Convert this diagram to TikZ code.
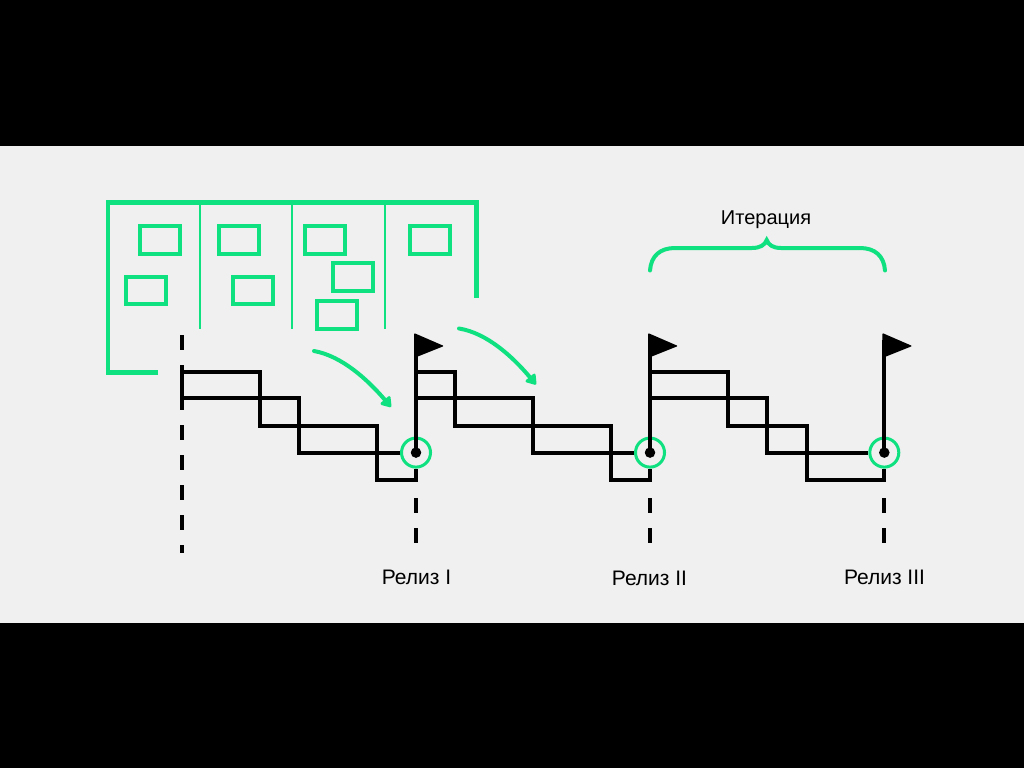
\documentclass[tikz,border=0pt]{standalone}
\usepackage{fontspec}
\setmainfont{Liberation Sans}
\usetikzlibrary{arrows.meta}
\definecolor{boardgreen}{HTML}{0FE080}
\definecolor{panelgrey}{HTML}{F0F0F0}

\begin{document}
\begin{tikzpicture}[
  x=1pt, y=-1pt,
  board/.style={draw=boardgreen, line width=4.5pt},
  divider/.style={draw=boardgreen, line width=1.8pt},
  card/.style={draw=boardgreen, line width=4pt, minimum width=40pt, minimum height=27.5pt,
    inner sep=0pt, outer sep=0pt},
  stair/.style={draw=black, line width=4pt},
  cut/.style={draw=black, line width=4pt, dash pattern=on 15pt off 15pt},
  ring/.style={circle, draw=boardgreen, line width=3pt, minimum size=29pt, inner sep=0pt},
  dot/.style={circle, fill=black, minimum size=10.5pt, inner sep=0pt},
  push/.style={draw=boardgreen, line width=4pt, line cap=round,
    -{Triangle[length=11pt, width=14pt, round]}},
  lbl/.style={font=\fontsize{21}{24}\selectfont, text=black, inner sep=0pt},
]
\useasboundingbox (0,0) rectangle (1024,768);
% page
\fill[black] (0,0) rectangle (1024,768);
\fill[panelgrey] (0,146) rectangle (1024,623);
% board
\draw[board] (158,372.7) -- (108,372.7) -- (108,202.7) -- (476.7,202.7) -- (476.7,298);
\foreach \x in {200.3,292.3,384.7}
  \draw[divider] (\x,204) -- (\x,329);
% cards on the board
\foreach \n/\x/\y in {a/159.7/240,b/239.2/240,c/325/240,d/430/240,e/146/290.7,f/253.3/290.7,g/352.5/277,h/337/315}
  \node[card] (card\n) at (\x,\y) {};
% start line
\draw[cut] (181.7,335) -- (181.7,553);
\coordinate (start) at (181.7,365);
\draw[stair] (start) -- (181.7,410);
% release poles
\foreach \n/\x in {1/416,2/650,3/884.3} {
  \node[ring] (ring\n) at (\x,452.6) {};
  \draw[stair] (\x,340) -- (ring\n.center);
  \draw[stair] (ring\n.south) -- (\x,482);
  \fill[black, rounded corners=1pt] (\x-2,333) -- (\x+28,346) -- (\x-2,358) -- cycle;
  \node[dot] (dot\n) at (ring\n) {};
  \draw[cut] (\x,498) -- (\x,545);
}
% iteration I
\draw[stair] (181.7,371.7) -- (260,371.7) -- (260,425.7) -- (376.7,425.7) -- (376.7,480) -- (418,480);
\draw[stair] (181.7,398.3) -- (299,398.3) -- (299,452.6) -- (ring1);
% iteration II
\draw[stair] (416,371.7) -- (455,371.7) -- (455,425.7) -- (611,425.7) -- (611,480) -- (652,480);
\draw[stair] (416,398.3) -- (533.3,398.3) -- (533.3,452.6) -- (ring2);
% iteration III
\draw[stair] (650,371.7) -- (728.3,371.7) -- (728.3,425.7) -- (806.7,425.7) -- (806.7,480) -- (886.3,480);
\draw[stair] (650,398.3) -- (767.3,398.3) -- (767.3,452.6) -- (ring3);
% green arrows
\draw[push] (314,351) .. controls (342,356) and (368,380) .. (391,407);
\draw[push] (459,328.5) .. controls (487,333) and (513,357) .. (536,384.5);
% brace
\draw[board, line cap=round, line width=4pt] (650,270.5) .. controls (651,256) and (660,248) .. (675,248)
  -- (752,248) .. controls (760,248) and (765,245) .. (766.7,240)
  .. controls (768.5,245) and (773,248) .. (781,248)
  -- (860,248) .. controls (875,248) and (884,256) .. (885,270.5);
% labels
\node[lbl, font=\fontsize{20}{24}\selectfont] (iter) at (766,219.5) {Итерация};
\node[lbl] (rel1) at (416.5,577) {Релиз I};
\node[lbl] (rel2) at (649.5,578) {Релиз II};
\node[lbl] (rel3) at (884.5,577) {Релиз III};
\end{tikzpicture}
\end{document}
